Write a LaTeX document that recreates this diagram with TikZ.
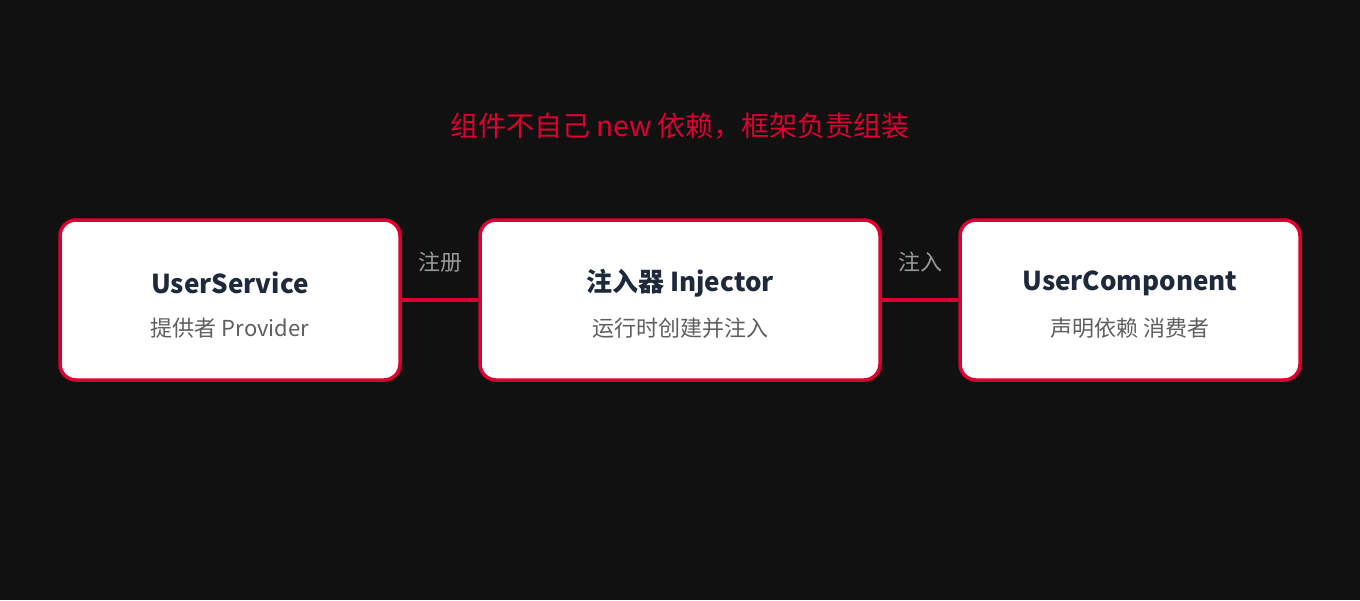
\documentclass[tikz,border=0pt]{standalone}
\usepackage{fontspec}
\setmainfont{Noto Sans CJK SC}
\definecolor{bg}{HTML}{111111}
\definecolor{ngred}{HTML}{DD0031}
\definecolor{navy}{HTML}{1E293B}
\definecolor{subgray}{HTML}{5F5F5F}
\definecolor{lblgray}{HTML}{9A9A9A}
\tikzset{
  card/.style={draw=ngred, line width=3.5pt, fill=white, rounded corners=16pt, minimum width=340pt, minimum height=160pt},
  ttl/.style={text=navy, font=\fontsize{26pt}{30pt}\selectfont\bfseries},
  sub/.style={text=subgray, font=\fontsize{22pt}{26pt}\selectfont},
  lbl/.style={text=lblgray, font=\fontsize{22pt}{26pt}\selectfont},
  link/.style={draw=ngred, line width=3.5pt}
}
\begin{document}
\begin{tikzpicture}[x=1pt,y=-1pt]
\fill[bg] (0,0) rectangle (1360,600);
\useasboundingbox (0,0) rectangle (1360,600);
\node[text=ngred, font=\fontsize{28pt}{32pt}\selectfont] (title) at (680,126) {组件不自己 new 依赖，框架负责组装};
\node[card] (a) at (230,300) {};
\node[card, minimum width=400pt] (b) at (680,300) {};
\node[card] (c) at (1130,300) {};
\node[ttl] (at) at (230,283) {UserService};
\node[sub] (as) at (230,328) {提供者 Provider};
\node[ttl] (bt) at (680,283) {注入器 Injector};
\node[sub] (bs) at (680,328) {运行时创建并注入};
\node[ttl] (ct) at (1130,283) {UserComponent};
\node[sub] (cs) at (1130,328) {声明依赖 消费者};
\draw[link] (a.east) -- (b.west);
\draw[link] (b.east) -- (c.west);
\node[lbl] (l1) at (440,262) {注册};
\node[lbl] (l2) at (920,262) {注入};
\end{tikzpicture}
\end{document}
